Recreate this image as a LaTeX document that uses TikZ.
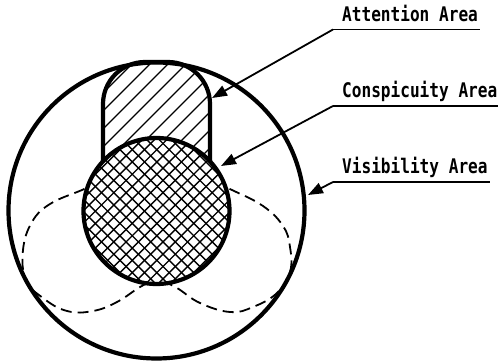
\documentclass[tikz,border=0pt]{standalone}
\usepackage{fontspec}
\newfontfamily\labelfont{DejaVu Sans Mono}
\usetikzlibrary{arrows.meta}
\begin{document}
\begin{tikzpicture}[x=1pt,y=-1pt,
  outline/.style={line width=4.2pt},
  hatchline/.style={line width=1.4pt},
  lobe/.style={line width=1.8pt, dash pattern=on 11pt off 6pt},
  pointer/.style={line width=1.8pt, -{Triangle[length=15pt,width=11pt]}},
  underline/.style={line width=1.8pt},
  lab/.style={font=\labelfont\bfseries\fontsize{16.1pt}{18pt}\selectfont, anchor=base west, inner sep=0pt}]
\useasboundingbox (0,0) rectangle (498,363);
% attention area (hatched)
\begin{scope}
  \clip[rounded corners=42pt] (103,200) -- (103,62) -- (210,62) -- (210,200) -- cycle;
  \foreach \k in {160,178,...,430} \draw[hatchline] (\k,0) -- ({\k-300},300);
\end{scope}
\draw[outline, rounded corners=42pt] (103,185) -- (103,62) -- (210,62) -- (210,185);
% visibility lobes (dashed)
\draw[lobe] plot[smooth, tension=0.7] coordinates {(100,182) (82,190) (50,204) (32,222) (23,250) (26,280) (43,298) (67,311) (93,311) (117,302) (140,287) (155,280)};
\draw[lobe] plot[smooth, tension=0.7] coordinates {(214,182) (232,190) (263,206) (283,226) (290,247) (290,272) (277,293) (253,307) (230,312) (200,303) (177,288) (160,280)};
% conspicuity area (cross-hatched)
\fill[white] (156.5,211) circle[radius=73];
\begin{scope}
  \clip (156.5,211) circle[radius=73];
  \foreach \i in {0,...,20} \draw[hatchline] ({245+12.3*\i},0) -- ({245+12.3*\i-400},400);
  \foreach \i in {0,...,20} \draw[hatchline] ({-165+12.3*\i},0) -- ({-165+12.3*\i+400},400);
\end{scope}
\draw[outline] (156.5,211) circle[radius=73];
% visibility area
\draw[outline] (156.5,210.5) circle[radius=148];
% labels
\coordinate (au) at (333,29.5);
\coordinate (ae) at (480,29.5);
\coordinate (at) at (212,98);
\coordinate (cu) at (333,106);
\coordinate (ce) at (498,106);
\coordinate (ct) at (221,166);
\coordinate (vu) at (333,182);
\coordinate (ve) at (490,182);
\coordinate (vt) at (308,195);
\node[lab] (la) at (342,22) {\scalebox{1}[1.25]{Attention Area}};
\node[lab] (lc) at (342,98) {\scalebox{1}[1.25]{Conspicuity Area}};
\node[lab] (lv) at (342,174) {\scalebox{1}[1.25]{Visibility Area}};
\draw[underline] (au) -- (ae);
\draw[underline] (cu) -- (ce);
\draw[underline] (vu) -- (ve);
\draw[pointer] (au) -- (at);
\draw[pointer] (cu) -- (ct);
\draw[pointer] (vu) -- (vt);
\end{tikzpicture}
\end{document}
